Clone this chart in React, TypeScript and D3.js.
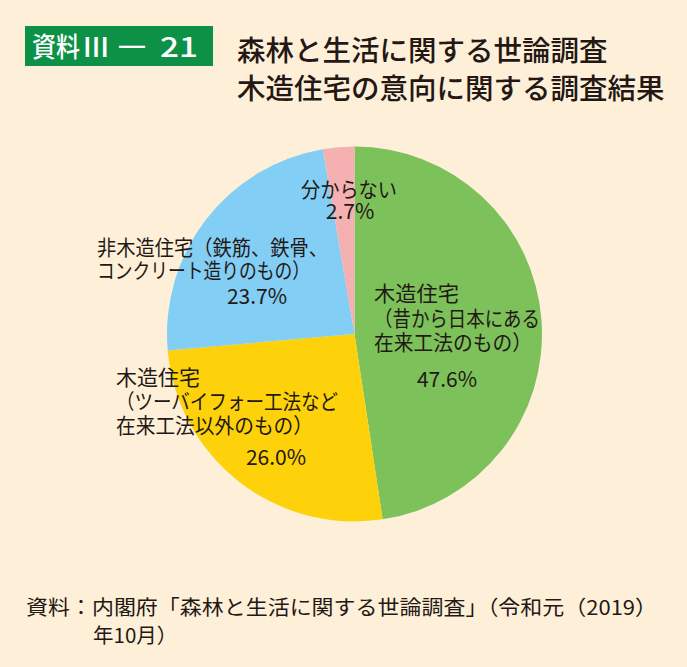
import React from "react";
import * as d3 from "d3";

const categories = ["木造住宅（昔から日本にある在来工法のもの）", "木造住宅（ツーバイフォー工法など在来工法以外のもの）", "非木造住宅（鉄筋、鉄骨、コンクリート造りのもの）", "分からない"];
const values = [47.6, 26.0, 23.7, 2.7];
const colors = ["#7DC15B", "#FDD20A", "#82CEF4", "#F5B1B1"];
const labelLines = [
  ["木造住宅", "（昔から日本にある", "在来工法のもの）"],
  ["木造住宅", "（ツーバイフォー工法など", "在来工法以外のもの）"],
  ["非木造住宅（鉄筋、鉄骨、", "コンクリート造りのもの）"],
  ["分からない"],
];
const titleLines = ["森林と生活に関する世論調査", "木造住宅の意向に関する調査結果"];
const badgeParts = ["資料", "Ⅲ", "－", "21"];
const sourceLines = ["資料：内閣府「森林と生活に関する世論調査」（令和元（2019）", "年10月）"];

const W = 687, H = 667;
const cx = 354.5, cy = 334, R = 187.5;
const FONT = "'Noto Sans CJK JP', 'Noto Sans', sans-serif";
const TEXT = "#231815";

const labelLayout = [
  { x: 374, y: 292, gap: 24.5, px: 447, py: 378, anchor: "start", widths: [85, 166, 158] },
  { x: 116, y: 376, gap: 24, px: 276, py: 456, anchor: "start", widths: [84, 222, 197] },
  { x: 97, y: 246, gap: 23, px: 257, py: 295, anchor: "start", widths: [231, 213] },
  { x: 349, y: 188, gap: 23, px: 350, py: 210, anchor: "middle", widths: [96] },
];
const badgeLayout = [
  { x: 32, w: 48 },
  { x: 82, w: 28 },
  { x: 114, w: 36 },
  { x: 160, w: 38 },
];

export default function App() {
  const pie = d3.pie<number>().sort(null).value((d) => d);
  const arcs = pie(values);
  const arc = d3.arc<d3.PieArcDatum<number>>().innerRadius(0).outerRadius(R);
  return (
    <svg width={W} height={H} style={{ display: "block", position: "absolute", left: 0, top: 0 }} fontFamily={FONT}>
      <rect x={0} y={0} width={W} height={H} fill="#FEF0D8" />
      <rect x={25} y={26} width={188} height={40} fill="#0C9146" />
      {badgeParts.map((t, i) => (
        <text key={i} x={badgeLayout[i].x} y={45} fill="#fff" fontSize={27} fontWeight={500} dominantBaseline="central" textLength={badgeLayout[i].w} lengthAdjust="spacingAndGlyphs">{t}</text>
      ))}
      {titleLines.map((t, i) => (
        <text key={i} x={237} y={48 + i * 38} fill={TEXT} fontSize={28.5} dominantBaseline="central" fontWeight={500}>{t}</text>
      ))}
      <g transform={`translate(${cx},${cy})`}>
        {arcs.map((a, i) => (
          <path key={i} d={arc(a) || ""} fill={colors[i]} />
        ))}
      </g>
      {labelLayout.map((l, i) => (
        <g key={i} fill={TEXT} fontSize={21}>
          {labelLines[i].map((t, j) => (
            <text key={j} x={l.x} y={l.y + j * l.gap} textAnchor={l.anchor} dominantBaseline="central" textLength={l.widths[j]} lengthAdjust="spacingAndGlyphs">{t}</text>
          ))}
          <text x={l.px} y={l.py} textAnchor="middle" dominantBaseline="central">{values[i].toFixed(1)}%</text>
        </g>
      ))}
      <text x={26} y={606} fill={TEXT} fontSize={20.5} dominantBaseline="central" textLength={631} lengthAdjust="spacingAndGlyphs">{sourceLines[0]}</text>
      <text x={93} y={634} fill={TEXT} fontSize={20.5} dominantBaseline="central">{sourceLines[1]}</text>
    </svg>
  );
}
